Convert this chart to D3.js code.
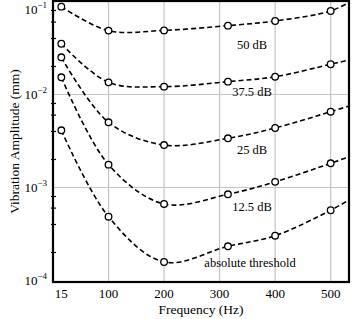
<!DOCTYPE html>
<html>
<head>
<meta charset="utf-8">
<script src="https://cdn.jsdelivr.net/npm/d3@7"></script>
<style>
  body { margin: 0; background: #fff; }
  svg { display: block; font-family: "Liberation Serif", "DejaVu Serif", serif; }
</style>
</head>
<body>
<svg id="chart" width="352" height="319"></svg>
<script>
// frequencies where the amplitudes were measured (Hz)
const freqs = [15, 100, 200, 315, 400, 500]
// right edge of the plot, where the curves leave the frame
const edgeFreq = 533

const levels = ["50 dB", "37.5 dB", "25 dB", "12.5 dB", "absolute threshold"]

// amplitudes in mm, one array per curve
const amp50 = [0.088, 0.0486, 0.0489, 0.055, 0.0617, 0.079]
const amp375 = [0.0351, 0.01351, 0.01214, 0.01374, 0.01553, 0.02114]
const amp25 = [0.0251, 0.00502, 0.00286, 0.00338, 0.00436, 0.00653]
const amp125 = [0.0153, 0.00176, 0.000665, 0.000845, 0.00115, 0.00182]
const ampThreshold = [0.00412, 0.000485, 0.000158, 0.000233, 0.000303, 0.000569]
// where each curve meets the right frame
const edgeAmps = [0.098, 0.0235, 0.0075, 0.00214, 0.000735]

const xTicks = [15, 100, 200, 300, 400, 500]
const yTicks = [1e-1, 1e-2, 1e-3, 1e-4]
const yMinor = [2, 4, 6, 8]

const svg = d3.select("#chart")
const margins = {left: 53, top: 1, right: 3, bottom: 37}
const width = 352, height = 319

const x = d3.scaleLinear()
  .domain([0, edgeFreq])
  .range([margins.left, width - margins.right])

const y = d3.scaleLog()
  .domain([9.63e-5, 0.1012])
  .range([height - margins.bottom, margins.top])

// grid
svg.append("g")
  .attr("class", "grid-x")
  .selectAll("line")
  .data(xTicks.filter(d => d >= 100))
  .join("line")
  .attr("x1", d => x(d)).attr("x2", d => x(d))
  .attr("y1", y.range()[1]).attr("y2", y.range()[0])
  .attr("stroke", "#c4c4c4")
  .attr("stroke-width", 1.2)

svg.append("g")
  .attr("class", "grid-y")
  .selectAll("line")
  .data([1e-2, 1e-3])
  .join("line")
  .attr("x1", x.range()[0]).attr("x2", x.range()[1])
  .attr("y1", d => y(d)).attr("y2", d => y(d))
  .attr("stroke", "#c4c4c4")
  .attr("stroke-width", 1.2)

// curves
const series = [amp50, amp375, amp25, amp125, ampThreshold]
const curveLine = d3.line()
  .x(d => x(d[0]))
  .y(d => y(d[1]))
  .curve(d3.curveCatmullRom.alpha(0.5))

const curves = svg.append("g").attr("class", "curves")
series.forEach((vals, i) => {
  const pts = freqs.map((f, j) => [f, vals[j]])
  curves.append("path")
    .datum(pts.concat([[edgeFreq, edgeAmps[i]]]))
    .attr("d", curveLine)
    .attr("fill", "none")
    .attr("stroke", "#000")
    .attr("stroke-width", 1.6)
    .attr("stroke-dasharray", "5,3")

  curves.append("g")
    .selectAll("circle")
    .data(pts)
    .join("circle")
    .attr("cx", d => x(d[0]))
    .attr("cy", d => y(d[1]))
    .attr("r", 3.3)
    .attr("fill", "#fff")
    .attr("stroke", "#000")
    .attr("stroke-width", 1.3)
})

// curve labels
const labelPos = [[252, 0.0345], [252, 0.01075], [252, 0.00255], [252, 0.00063], [250, 0.000156]]
svg.append("g")
  .selectAll("text")
  .data(levels)
  .join("text")
  .attr("x", (d, i) => labelPos[i][0])
  .attr("y", (d, i) => y(labelPos[i][1]))
  .attr("text-anchor", "middle")
  .attr("dy", "0.35em")
  .attr("font-size", 12.5)
  .text(d => d)

// frame
svg.append("rect")
  .attr("x", x.range()[0]).attr("y", y.range()[1])
  .attr("width", x.range()[1] - x.range()[0])
  .attr("height", y.range()[0] - y.range()[1])
  .attr("fill", "none")
  .attr("stroke", "#000")
  .attr("stroke-width", 2.2)

// minor ticks on the left axis
const minor = []
yTicks.slice(1).forEach(t => yMinor.forEach(m => minor.push(t * m)))
svg.append("g")
  .selectAll("line")
  .data(minor)
  .join("line")
  .attr("x1", x.range()[0] - 2).attr("x2", x.range()[0] + 3)
  .attr("y1", d => y(d)).attr("y2", d => y(d))
  .attr("stroke", "#000")
  .attr("stroke-width", 1.2)

// y tick labels
const yLab = svg.append("g")
  .selectAll("text")
  .data(yTicks)
  .join("text")
  .attr("x", x.range()[0] - 6)
  .attr("y", d => Math.max(y(d), 9) + 5)
  .attr("text-anchor", "end")
  .attr("font-size", 13)
yLab.append("tspan").text("10")
yLab.append("tspan")
  .attr("dy", -6)
  .attr("font-size", 9)
  .text(d => "\u2212" + Math.round(-Math.log10(d)))

// x tick labels
svg.append("g")
  .selectAll("text")
  .data(xTicks)
  .join("text")
  .attr("x", d => x(d))
  .attr("y", height - margins.bottom + 16)
  .attr("text-anchor", "middle")
  .attr("font-size", 13)
  .text(d => d)

// axis titles
svg.append("text")
  .attr("x", (x.range()[0] + x.range()[1]) / 2)
  .attr("y", 314)
  .attr("text-anchor", "middle")
  .attr("font-size", 13.5)
  .text("Frequency (Hz)")

svg.append("text")
  .attr("transform", `translate(14, ${(y.range()[0] + y.range()[1]) / 2}) rotate(-90)`)
  .attr("text-anchor", "middle")
  .attr("dy", "0.35em")
  .attr("font-size", 13.5)
  .text("Vibration Amplitude (mm)")
</script>
</body>
</html>
